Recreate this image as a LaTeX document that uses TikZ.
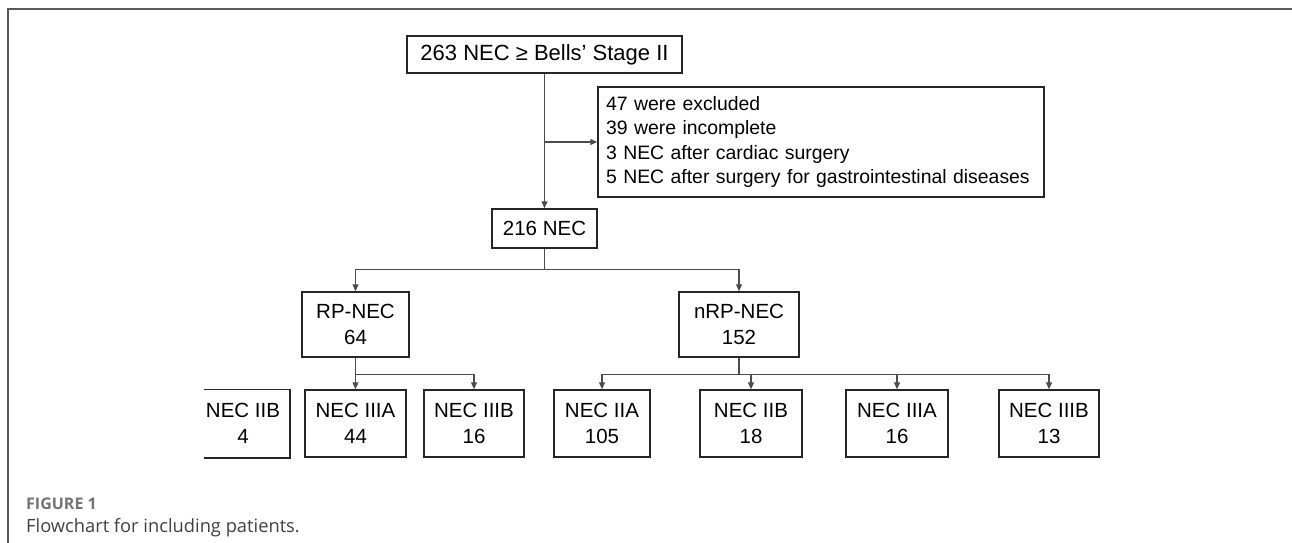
\documentclass[tikz,border=0pt]{standalone}
\usepackage{fontspec}
\setmainfont{Liberation Sans}
\newfontfamily\capfont{Open Sans}
\usetikzlibrary{arrows.meta, positioning}

\begin{document}
\begin{tikzpicture}[x=1pt, y=-1pt,
  box/.style={draw=black!85, line width=1.5pt, inner sep=0pt, align=center,
    font=\fontsize{20.5}{26}\selectfont, minimum height=67pt},
  conn/.style={draw=black!70, line width=1.2pt},
  arr/.style={conn, -{Triangle[length=7pt, width=6pt]}},
  frameline/.style={draw=black!65, line width=1.2pt},
]
  \useasboundingbox (0,0) rectangle (1292,543);
  % Frame
  \draw[frameline] (8,543) -- (8,9) -- (1292,9);
  % Top
  \node[box, minimum width=275pt, minimum height=37pt, font=\fontsize{22}{26}\selectfont] (stage) at (544.5,54.5) {263 NEC ≥ Bells’ Stage II};
  \node[box, minimum width=446pt, minimum height=110pt, inner xsep=8pt, align=left, text width=430pt,
    font=\fontsize{19.4}{24.5}\selectfont] (excl) at (821,142)
    {47 were excluded\\39 were incomplete\\3 NEC after cardiac surgery\\5 NEC after surgery for gastrointestinal diseases};
  \node[box, minimum width=105pt, minimum height=39pt] (total) at (544.5,228.5) {216 NEC};
  % Groups
  \node[box, minimum width=107pt, minimum height=65pt] (rp) at (355.5,324.5) {RP-NEC\\64};
  \node[box, minimum width=120pt, minimum height=65pt] (nrp) at (739,324.5) {nRP-NEC\\152};
  % Stages
  \node[box, draw=none, minimum width=92pt] (rpiib) at (243,423.5) {NEC IIB\\4};
  \draw[box] ([xshift=8pt]rpiib.north west) -- (rpiib.north east) -- (rpiib.south east) -- ([xshift=8pt]rpiib.south west);
  \node[box, minimum width=101pt] (rpiiia) at (355.5,423.5) {NEC IIIA\\44};
  \node[box, minimum width=100pt] (rpiiib) at (474,423.5) {NEC IIIB\\16};
  \node[box, minimum width=96pt] (nrpiia) at (602,423.5) {NEC IIA\\105};
  \node[box, minimum width=102pt] (nrpiib) at (751,423.5) {NEC IIB\\18};
  \node[box, minimum width=102pt] (nrpiiia) at (897,423.5) {NEC IIIA\\16};
  \node[box, minimum width=100pt] (nrpiiib) at (1049,423.5) {NEC IIIB\\13};
  % Connectors
  \draw[arr] (stage.south) -- (total.north);
  \draw[arr] (stage.south |- excl.west) -- (excl.west);
  \draw[arr] (total.south) -- ++(0,20.5) -| (rp.north);
  \draw[arr] (total.south) -- ++(0,20.5) -| (nrp.north);
  \draw[arr] (rp.south) -- ++(0,17) -| (rpiiia.north);
  \draw[arr] (rp.south) -- ++(0,17) -| (rpiiib.north);
  \foreach \n in {nrpiia, nrpiib, nrpiiia, nrpiiib}
    \draw[arr] (nrp.south) -- ++(0,17) -| (\n.north);
  % Caption
  \node[anchor=west, inner sep=0pt, text=black!55, font=\capfont\bfseries\fontsize{16}{18}\selectfont] (figlabel) at (26,504) {FIGURE 1};
  \node[anchor=west, inner sep=0pt, text=black!75, font=\capfont\fontsize{18.3}{22}\selectfont] (caption) at (26,528) {Flowchart for including patients.};
\end{tikzpicture}
\end{document}
